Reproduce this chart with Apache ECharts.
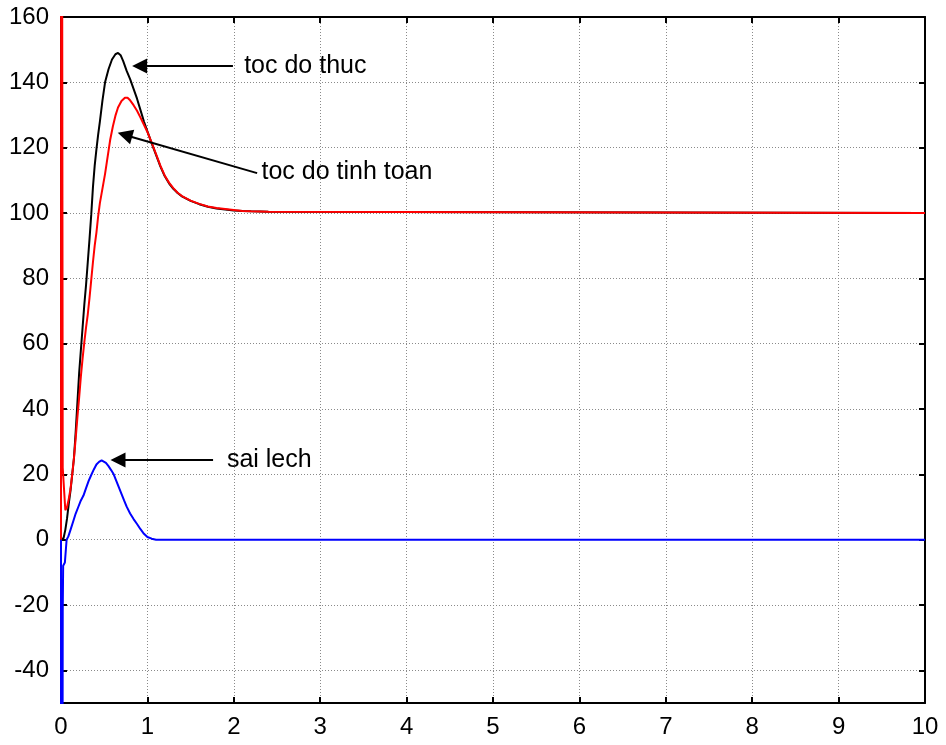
<!DOCTYPE html>
<html>
<head>
<meta charset="utf-8">
<script src="https://cdn.jsdelivr.net/npm/echarts@6/dist/echarts.min.js"></script>
<style>
  html, body { margin: 0; padding: 0; background: #fff; }
  #chart { width: 946px; height: 745px; }
</style>
</head>
<body>
<div id="chart"></div>
<script>
// Speed response of the drive: measured speed, estimated speed and their error (time in s)
const thucTime = [0, 0.03, 0.05, 0.07, 0.09, 0.11, 0.13, 0.15, 0.17, 0.19, 0.21, 0.23, 0.25, 0.27, 0.29, 0.31, 0.33, 0.35, 0.37, 0.39, 0.41, 0.43, 0.45, 0.48, 0.51, 0.55, 0.59, 0.63, 0.66, 0.69, 0.72, 0.76, 0.80, 0.84, 0.88, 0.92, 0.96, 1.0, 1.05, 1.1, 1.15, 1.2, 1.25, 1.3, 1.35, 1.4, 1.5, 1.6, 1.7, 1.8, 1.9, 2.0, 2.1, 2.2, 2.4, 2.42, 10];
const thucValue = [0, 0.5, 3, 6.5, 11, 15, 20, 25, 33, 42, 51, 58, 65, 72, 78, 85, 92, 99.5, 108, 114.5, 119.5, 124, 128, 134.5, 140, 144, 147, 148.6, 149, 148.3, 146.5, 143.5, 141, 138, 135, 131.5, 128, 125, 121.3, 117.8, 114.3, 111.3, 109.1, 107.4, 106.1, 105.1, 103.7, 102.7, 101.9, 101.4, 101.1, 100.8, 100.6, 100.5, 100.4, 100, 100];

const tinhToanTime = [0, 0.004, 0.02, 0.05, 0.07, 0.09, 0.11, 0.13, 0.15, 0.17, 0.19, 0.21, 0.23, 0.25, 0.27, 0.29, 0.31, 0.33, 0.35, 0.37, 0.39, 0.41, 0.43, 0.45, 0.47, 0.49, 0.51, 0.53, 0.55, 0.57, 0.60, 0.63, 0.66, 0.70, 0.74, 0.77, 0.80, 0.84, 0.88, 0.92, 0.96, 1.0, 1.05, 1.1, 1.15, 1.2, 1.25, 1.3, 1.35, 1.4, 1.5, 1.6, 1.7, 1.8, 1.9, 2.0, 2.1, 2.2, 2.4, 2.42, 10];
const tinhToanValue = [0, 400, 22, 9, 10, 12.5, 15.5, 20, 25, 31, 37.5, 43.5, 50, 55.5, 60.5, 65, 69, 74, 79.5, 85, 90, 94, 99, 103, 106, 109, 112, 115.5, 119, 122.5, 126.5, 129.8, 132.3, 134.3, 135.3, 135.3, 134.5, 133, 131.3, 129.2, 127, 124.8, 121.5, 118, 114.5, 111.5, 109.3, 107.6, 106.2, 105.2, 103.8, 102.8, 102, 101.5, 101.2, 100.9, 100.6, 100.5, 100.4, 100, 100];

const saiLechTime = [0, 0.004, 0.02, 0.025, 0.045, 0.065, 0.085, 0.11, 0.14, 0.17, 0.2, 0.23, 0.26, 0.29, 0.32, 0.35, 0.38, 0.41, 0.44, 0.47, 0.49, 0.52, 0.55, 0.58, 0.61, 0.64, 0.67, 0.70, 0.73, 0.76, 0.8, 0.84, 0.88, 0.92, 0.96, 1.0, 1.05, 1.1, 10];
const saiLechValue = [0, -400, -22, -8, -7, 0, 1, 3, 5.5, 8, 10, 12, 13.5, 15.8, 18, 19.8, 21.5, 23, 23.8, 24.3, 24.5, 23.5, 22.5, 21.3, 20, 18, 16, 14, 12, 10.1, 8, 6.3, 4.8, 3.2, 1.8, 0.8, 0.3, 0, 0];

// Callout labels with their arrows (data coordinates)
const noteText = ['toc do thuc', 'toc do tinh toan', 'sai lech'];
const noteAt = [[2.12, 145], [2.32, 112.5], [1.92, 24.4]];
const arrowFrom = [[1.99, 145], [2.27, 112.2], [1.76, 24.4]];
const arrowTo = [[0.91, 145], [0.74, 123.9], [0.66, 24.4]];

const xTickValues = [0, 1, 2, 3, 4, 5, 6, 7, 8, 9, 10];
const yTickValues = [-40, -20, 0, 20, 40, 60, 80, 100, 120, 140, 160];
const yRange = { min: -50, max: 160 };

const pairs = (xs, ys) => xs.map((x, i) => [x, ys[i]]);

const FONT = '"Liberation Sans", Arial, sans-serif';
const gridLine = { show: true, lineStyle: { color: '#8a8a8a', width: 1, type: [1, 2] } };
const frame = { show: true, onZero: false, lineStyle: { color: '#000', width: 2 } };
const tickIn = (vals) => ({ show: true, inside: true, length: 6, customValues: vals, lineStyle: { color: '#000', width: 2 } });

const chart = echarts.init(document.getElementById('chart'), null, { renderer: 'canvas' });

chart.setOption({
  animation: false,
  backgroundColor: '#fff',
  grid: { left: 61, top: 17, right: 21, bottom: 42, containLabel: false },
  xAxis: [
    {
      type: 'value', position: 'bottom', min: 0, max: 10,
      axisLine: frame, axisTick: tickIn(xTickValues), splitLine: gridLine,
      axisLabel: { color: '#000', fontSize: 24, fontFamily: FONT, margin: 12, customValues: xTickValues }
    },
    {
      type: 'value', position: 'top', min: 0, max: 10,
      axisLine: frame, axisTick: tickIn(xTickValues), splitLine: { show: false },
      axisLabel: { show: false }
    }
  ],
  yAxis: [
    {
      type: 'value', position: 'left', ...yRange,
      axisLine: frame, axisTick: tickIn(yTickValues), splitLine: gridLine,
      axisLabel: { color: '#000', fontSize: 24, fontFamily: FONT, margin: 12, customValues: yTickValues }
    },
    {
      type: 'value', position: 'right', ...yRange,
      axisLine: frame, axisTick: tickIn(yTickValues), splitLine: { show: false },
      axisLabel: { show: false }
    }
  ],
  series: [
    {
      name: 'toc do thuc', type: 'line', data: pairs(thucTime, thucValue),
      symbol: 'none', clip: true, z: 3,
      lineStyle: { color: '#000', width: 2 }
    },
    {
      name: 'toc do tinh toan', type: 'line', data: pairs(tinhToanTime, tinhToanValue),
      symbol: 'none', clip: true, z: 4,
      lineStyle: { color: '#ff0000', width: 2 }
    },
    {
      name: 'sai lech', type: 'line', data: pairs(saiLechTime, saiLechValue),
      symbol: 'none', clip: true, z: 5,
      lineStyle: { color: '#0000ff', width: 2 },
      markLine: {
        silent: true,
        symbol: ['none', 'triangle'],
        symbolSize: 15,
        label: { show: false },
        lineStyle: { color: '#000', width: 2, type: 'solid' },
        itemStyle: { color: '#000' },
        data: arrowFrom.map((p, i) => [{ coord: p }, { coord: arrowTo[i] }])
      }
    },
    {
      name: 'ghi chu', type: 'scatter', data: noteAt.map((p, i) => [p[0], p[1], noteText[i]]),
      symbolSize: 0, z: 6, silent: true,
      itemStyle: { opacity: 1 },
      label: {
        show: true, position: 'right', distance: 0,
        formatter: (p) => p.value[2],
        color: '#000', opacity: 1, fontSize: 25, fontFamily: FONT
      }
    }
  ]
});
</script>
</body>
</html>
